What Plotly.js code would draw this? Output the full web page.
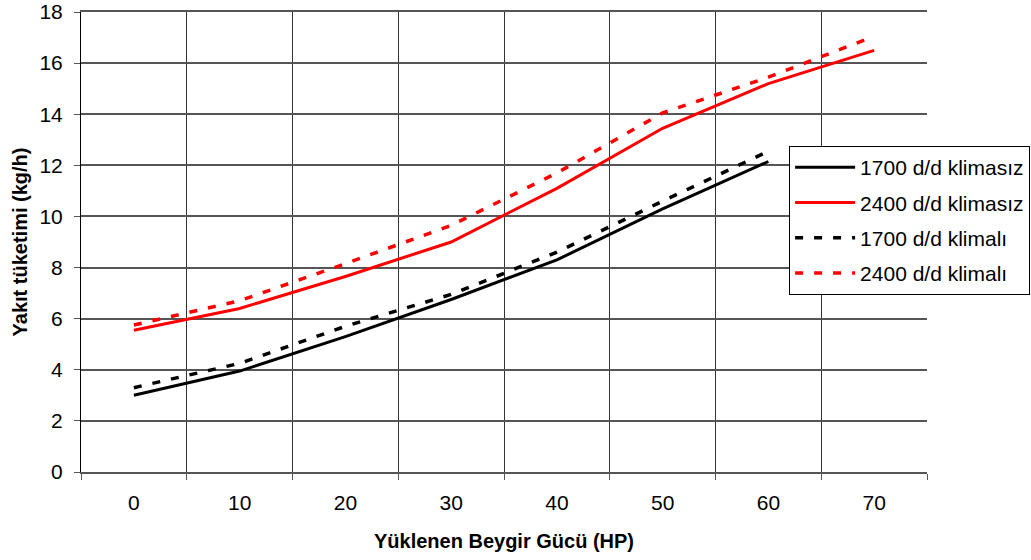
<!DOCTYPE html>
<html>
<head>
<meta charset="utf-8">
<script src="https://cdn.plot.ly/plotly-3.0.1.min.js"></script>
<style>
html, body { margin: 0; padding: 0; background: #ffffff; }
#chart { width: 1031px; height: 560px; }
</style>
</head>
<body>
<div id="chart"></div>
<script>
// Categories (Yüklenen Beygir Gücü, HP)
const categories = ['0', '10', '20', '30', '40', '50', '60', '70'];

// Series values (Yakıt tüketimi, kg/h)
const s1700Klimasiz = [3.0, 3.95, 5.3, 6.75, 8.3, 10.3, 12.15];
const s2400Klimasiz = [5.55, 6.4, 7.65, 9.0, 11.1, 13.45, 15.2, 16.5];
const s1700Klimali  = [3.3, 4.25, 5.7, 6.95, 8.6, 10.6, 12.55];
const s2400Klimali  = [5.75, 6.7, 8.15, 9.65, 11.7, 14.05, 15.45, 17.05];

const seriesNames = ['1700 d/d klimasız', '2400 d/d klimasız', '1700 d/d klimalı', '2400 d/d klimalı'];
const yTicks = [0, 2, 4, 6, 8, 10, 12, 14, 16, 18];

const FONT = 'Arial, "Liberation Sans", Helvetica, sans-serif';

function mk(values, name, color, dashed, idx) {
  return {
    type: 'scatter',
    mode: 'lines',
    x: categories.slice(0, values.length),
    y: values,
    name: name,
    legendgroup: 'g' + idx,
    line: dashed ? {color: color, width: 3.5, dash: '8px,11px'} : {color: color, width: 3},
    hoverinfo: 'x+y+name'
  };
}

const data = [
  mk(s1700Klimasiz, seriesNames[0], '#000000', false, 0),
  mk(s2400Klimasiz, seriesNames[1], '#FF0000', false, 1),
  mk(s1700Klimali,  seriesNames[2], '#000000', true, 2),
  mk(s2400Klimali,  seriesNames[3], '#FF0000', true, 3)
];

const layout = {
  width: 1031,
  height: 560,
  paper_bgcolor: '#ffffff',
  plot_bgcolor: '#ffffff',
  font: {family: FONT, size: 21, color: '#000000'},
  margin: {l: 81, r: 104, t: 12, b: 88, autoexpand: false},
  showlegend: true,
  legend: {
    x: 0.837, y: 0.7087, xanchor: 'left', yanchor: 'top',
    font: {family: FONT, size: 21, color: '#000000'},
    bgcolor: '#ffffff',
    bordercolor: '#000000',
    borderwidth: 1,
    traceorder: 'grouped',
    tracegroupgap: 5,
    itemwidth: 60
  },
  xaxis: {
    type: 'category',
    categoryorder: 'array',
    categoryarray: categories,
    range: [-0.5, 7.5],
    tickson: 'boundaries',
    ticks: 'outside',
    ticklen: 6,
    tickcolor: '#555555',
    tickwidth: 1,
    showgrid: true,
    gridcolor: '#333333',
    gridwidth: 1,
    showline: true,
    linecolor: '#555555',
    linewidth: 1.5,
    mirror: true,
    zeroline: false,
    ticklabelstandoff: 11,
    tickfont: {family: FONT, size: 21, color: '#000000'},
    title: {text: 'Yüklenen Beygir Gücü (HP)', font: {family: FONT, size: 20, color: '#000000', weight: 'bold'}, standoff: 21},
    fixedrange: true
  },
  yaxis: {
    range: [0, 18],
    tickvals: yTicks,
    ticktext: yTicks.map(String),
    ticks: 'outside',
    ticklen: 6,
    tickcolor: '#555555',
    tickwidth: 1,
    showgrid: true,
    gridcolor: '#555555',
    gridwidth: 1.5,
    showline: true,
    linecolor: '#000000',
    linewidth: 1,
    mirror: false,
    zeroline: false,
    ticklabelstandoff: 7,
    tickfont: {family: FONT, size: 21, color: '#000000'},
    title: {text: 'Yakıt tüketimi (kg/h)', font: {family: FONT, size: 20, color: '#000000', weight: 'bold'}, standoff: 6},
    fixedrange: true
  }
};

Plotly.newPlot('chart', data, layout, {displayModeBar: false, responsive: false});
</script>
</body>
</html>
